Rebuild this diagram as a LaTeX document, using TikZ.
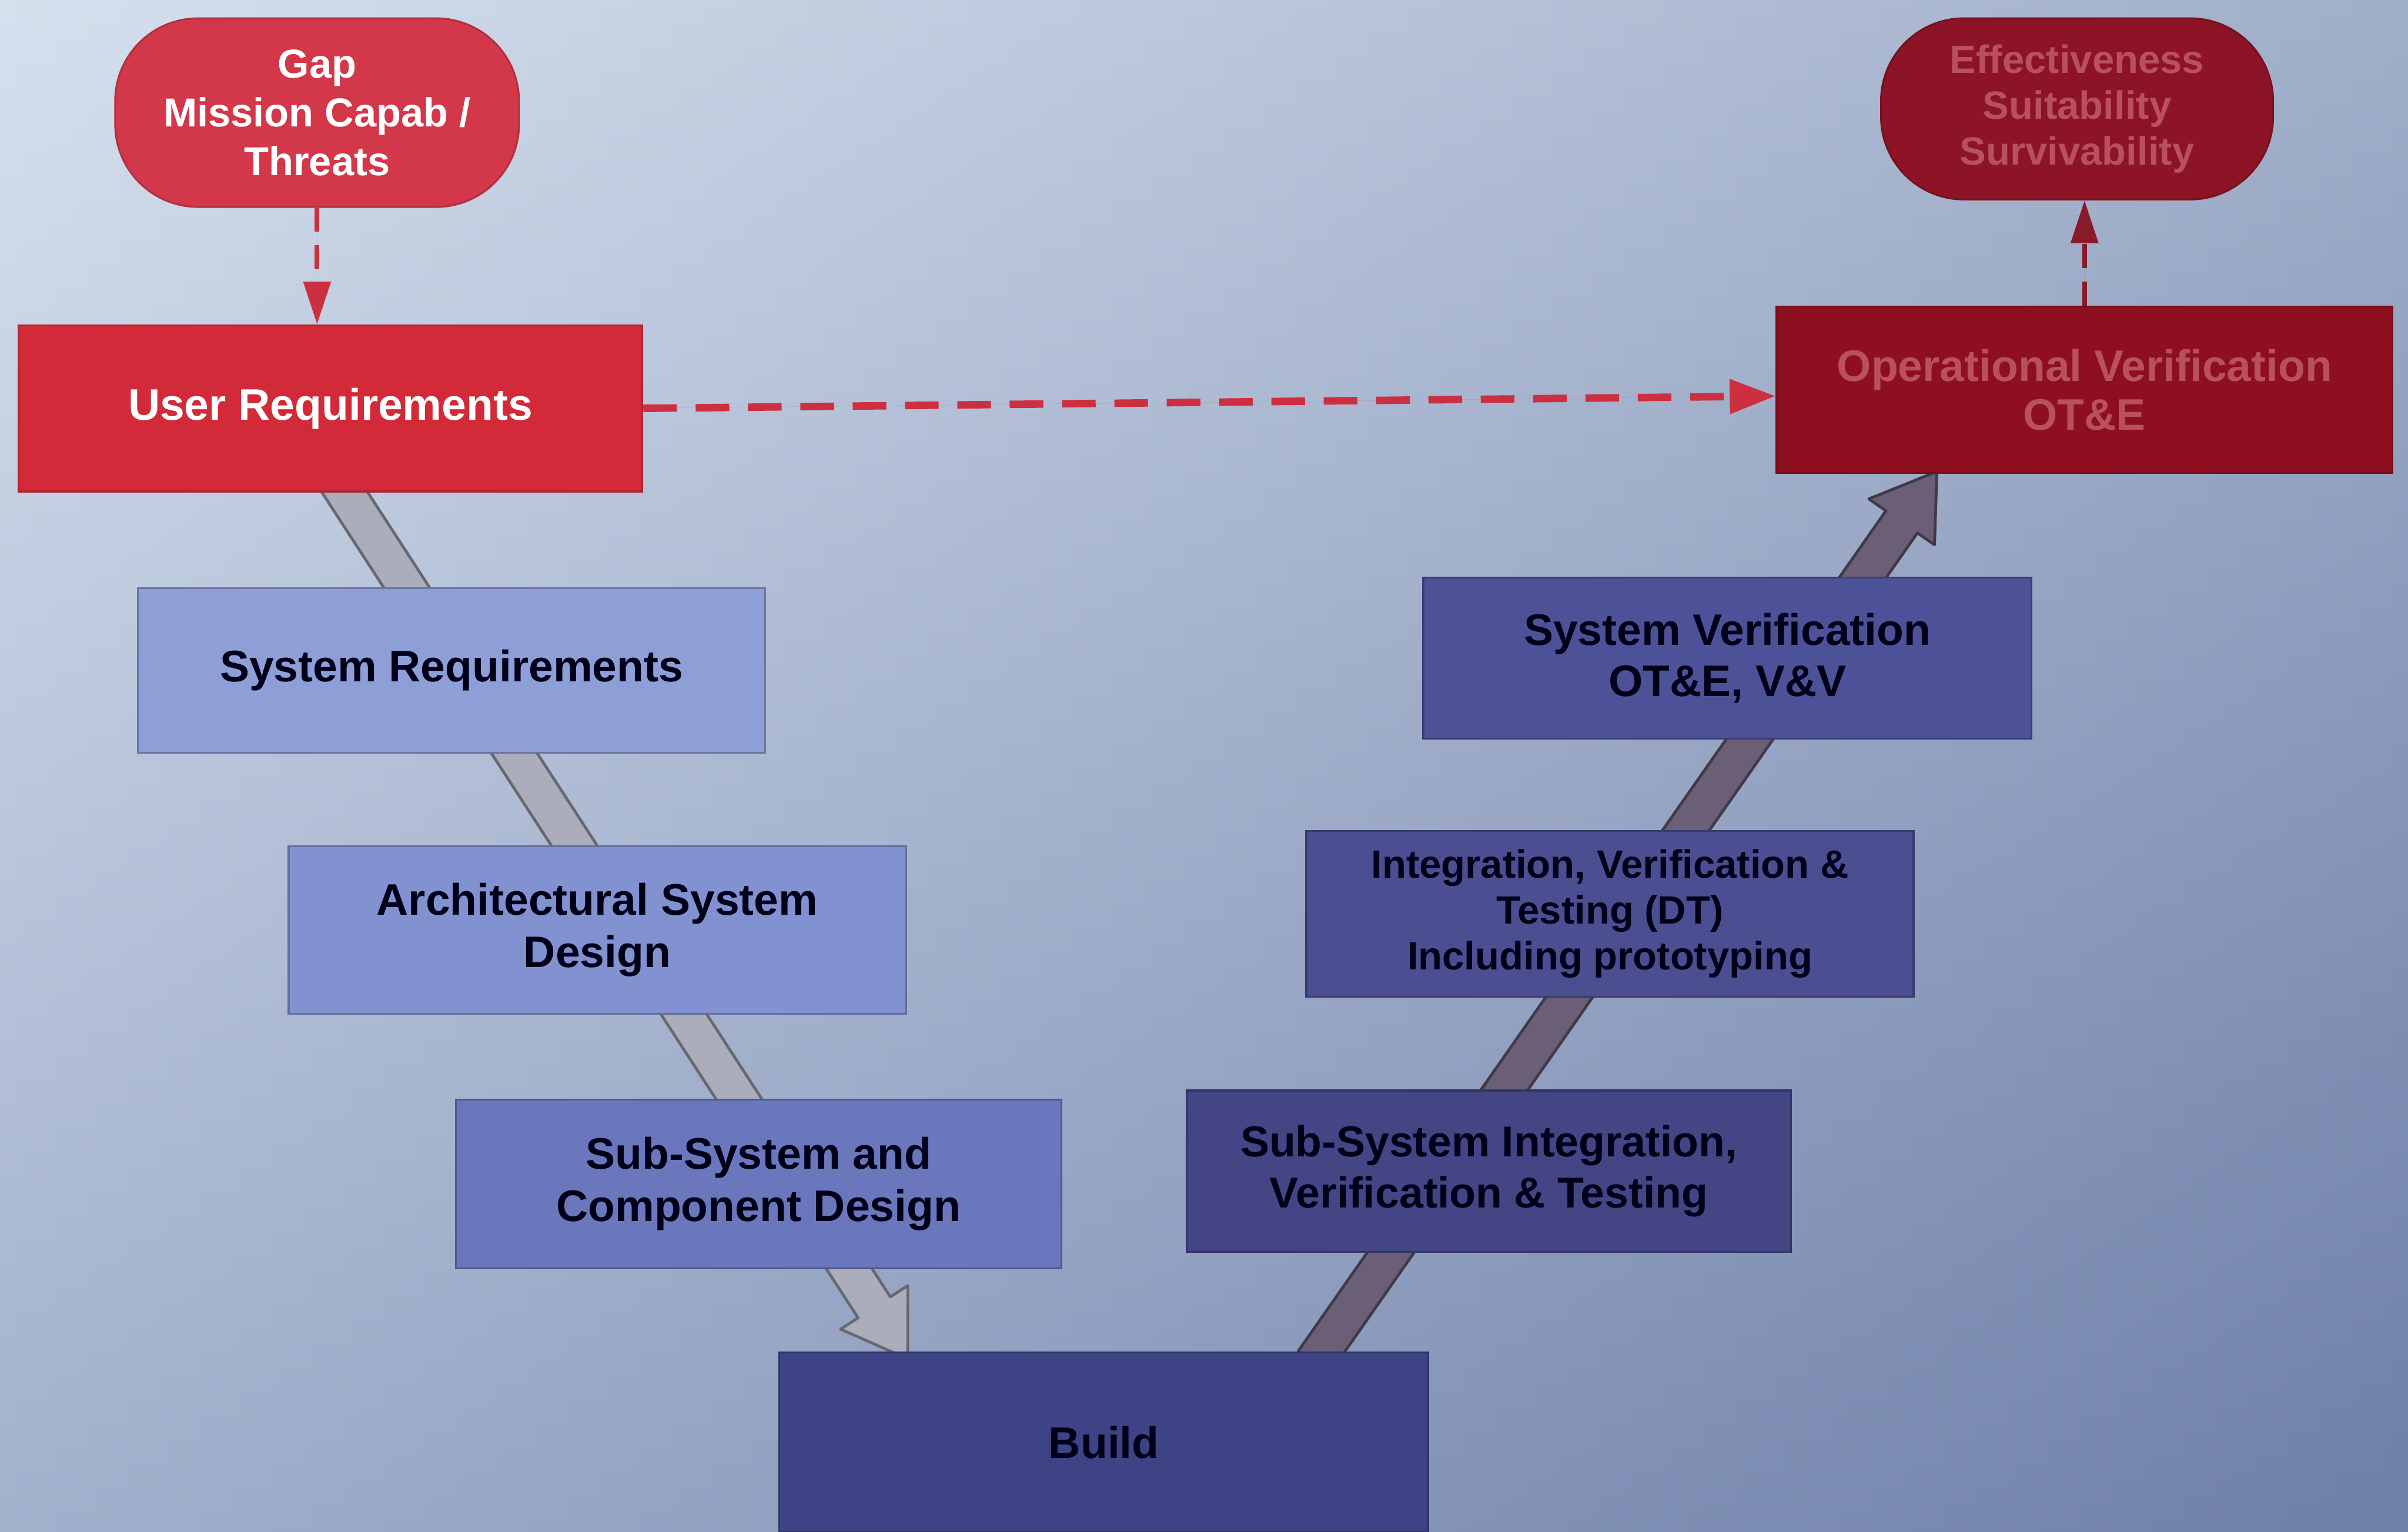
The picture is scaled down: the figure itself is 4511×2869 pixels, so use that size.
\documentclass[tikz,border=0pt]{standalone}
\usepackage{fontspec}
\setmainfont{Liberation Sans}
\usetikzlibrary{calc,arrows.meta}
\pgfdeclarelayer{bg}
\pgfdeclarelayer{bands}
\pgfsetlayers{bg,bands,main}
\definecolor{bgleft}{HTML}{C8D6E8}
\definecolor{bgmid}{HTML}{CBBECD}
\definecolor{bgright}{HTML}{8294B8}
\definecolor{bgbottom}{HTML}{34427C}
\definecolor{gapred}{HTML}{D2384A}
\definecolor{urred}{HTML}{D22A38}
\definecolor{effred}{HTML}{8C1426}
\definecolor{opvred}{HTML}{8E1020}
\definecolor{dimtext}{HTML}{B8505E}
\definecolor{sreqc}{HTML}{8E9ED6}
\definecolor{archc}{HTML}{8291CF}
\definecolor{subdc}{HTML}{6B77BC}
\definecolor{buildc}{HTML}{3D4385}
\definecolor{subic}{HTML}{434585}
\definecolor{ivtc}{HTML}{4B4F91}
\definecolor{sverc}{HTML}{4D5298}
\definecolor{lband}{HTML}{ABADBA}
\definecolor{rband}{HTML}{6B5F78}
\definecolor{dashred}{HTML}{CC3040}
\definecolor{darkarrow}{HTML}{8A1A2A}
\newcommand{\mainsize}{\bfseries\fontsize{23.5}{28}\selectfont}
\newcommand{\smallsize}{\bfseries\fontsize{21}{24.5}\selectfont}
\begin{document}
\begin{tikzpicture}[x=0.01cm,y=-0.01cm,
  boxbase/.style={rectangle, inner sep=0pt, align=center, font=\mainsize, line width=1pt},
  redbox/.style={boxbase, fill=#1, draw=#1!85!black, text=white},
  darkredbox/.style={boxbase, fill=#1, draw=#1!85!black, text=dimtext},
  bluebox/.style={boxbase, fill=#1, draw=#1!75!black, text=black!90!blue},
  pill/.style={rounded corners=1.55cm},
  band/.style={fill=#1, draw=#1!60!black, line width=1.5pt, line join=round},
  dashlink/.style={line width=0.14cm, dash pattern=on 0.63cm off 0.35cm, -{Triangle[length=0.86cm,width=0.62cm]}},
  thinlink/.style={line width=0.09cm, dash pattern=on 0.45cm off 0.25cm, -{Triangle[length=0.8cm,width=0.5cm]}}
]
\useasboundingbox (0,0) rectangle (4511,2869);
\begin{pgfonlayer}{bg}
\shade[left color=bgleft, middle color=bgmid, right color=bgright] (0,0) rectangle (4511,2869);
\shade[opacity=0.25, top color=white, bottom color=bgbottom] (0,0) rectangle (4511,2869);
\end{pgfonlayer}

% Nodes
\node[redbox=gapred, pill, minimum width=7.56cm, minimum height=3.53cm, font=\bfseries\fontsize{21.5}{26}\selectfont] (gap) at (594,211) {Gap\\Mission Capab /\\Threats};
\node[redbox=urred, minimum width=11.68cm, minimum height=3.11cm] (ureq) at (619,765) {User Requirements};
\node[darkredbox=effred, pill, minimum width=7.34cm, minimum height=3.39cm, font=\bfseries\fontsize{21}{24.5}\selectfont] (eff) at (3891,204) {Effectiveness\\Suitability\\Survivability};
\node[darkredbox=opvred, minimum width=11.53cm, minimum height=3.11cm, font=\bfseries\fontsize{23.5}{26}\selectfont] (opv) at (3905,730) {Operational Verification\\OT\&E};

\node[bluebox=sreqc, minimum width=11.74cm, minimum height=3.08cm] (sreq) at (846,1256) {System Requirements};
\node[bluebox=archc, minimum width=11.56cm, minimum height=3.14cm] (arch) at (1119,1742) {Architectural System\\Design};
\node[bluebox=subdc, minimum width=11.34cm, minimum height=3.16cm] (subd) at (1421,2218) {Sub-System and\\Component Design};
\node[bluebox=buildc, minimum width=12.15cm, minimum height=3.37cm] (build) at (2068,2702) {Build};
\node[bluebox=subic, minimum width=11.31cm, minimum height=3.02cm, font=\bfseries\fontsize{23}{27}\selectfont] (subi) at (2789,2194) {Sub-System Integration,\\Verification \& Testing};
\node[bluebox=ivtc, minimum width=11.37cm, minimum height=3.11cm, font=\smallsize] (ivt) at (3016,1712) {Integration, Verification \&\\Testing (DT)\\Including prototyping};
\node[bluebox=sverc, minimum width=11.39cm, minimum height=3.02cm, font=\bfseries\fontsize{23.5}{27}\selectfont] (sver) at (3236,1233) {System Verification\\OT\&E, V\&V};

% Bands (wide arrows) behind boxes
\coordinate (LS) at ($(ureq.south)+(14,-20)$);
\coordinate (LT) at ($(build.north west)+(242,14)$);
\coordinate (RS) at ($(build.north east)+(-216,20)$);
\coordinate (RT) at ($(opv.south west)+(302,-4)$);
\begin{pgfonlayer}{bands}
\foreach \s/\t/\c in {LS/LT/lband, RS/RT/rband}{
  \coordinate (B) at ($(\t)!1.15cm!(\s)$);
  \draw[band=\c]
    ($(\s)!0.36cm!90:(\t)$) -- ($(B)!0.36cm!-90:(\s)$) --
    ($(B)!0.75cm!-90:(\s)$) -- (\t) -- ($(B)!0.75cm!90:(\s)$) --
    ($(B)!0.36cm!90:(\s)$) -- ($(\s)!0.36cm!-90:(\t)$) -- cycle;
}
\end{pgfonlayer}

% Connectors
\draw[thinlink, draw=dashred, fill=dashred] (gap.south) -- (gap.south |- ureq.north);
\draw[dashlink, draw=dashred, fill=dashred] (ureq.east) -- ($(opv.west)+(0,12)$);
\draw[thinlink, draw=darkarrow, fill=darkarrow] (opv.north) -- (opv.north |- eff.south);
\end{tikzpicture}
\end{document}
